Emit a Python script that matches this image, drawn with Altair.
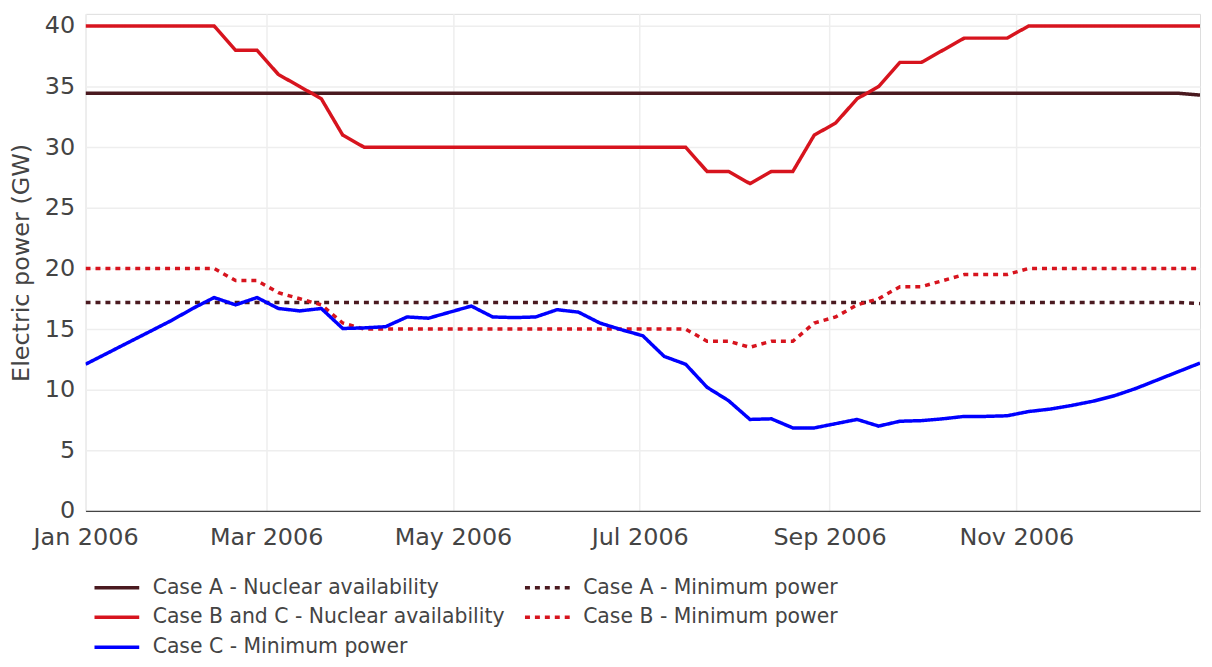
import altair as alt
import pandas as pd

# Weekly dates (start of each week in 2006)
dates = pd.date_range("2006-01-01", periods=53, freq="7D")

case_a_nuclear = [34.45, 34.45, 34.45, 34.45, 34.45, 34.45, 34.45, 34.45, 34.45, 34.45,
                  34.45, 34.45, 34.45, 34.45, 34.45, 34.45, 34.45, 34.45, 34.45, 34.45,
                  34.45, 34.45, 34.45, 34.45, 34.45, 34.45, 34.45, 34.45, 34.45, 34.45,
                  34.45, 34.45, 34.45, 34.45, 34.45, 34.45, 34.45, 34.45, 34.45, 34.45,
                  34.45, 34.45, 34.45, 34.45, 34.45, 34.45, 34.45, 34.45, 34.45, 34.45,
                  34.45, 34.45, 34.3]

case_a_min = [17.2, 17.2, 17.2, 17.2, 17.2, 17.2, 17.2, 17.2, 17.2, 17.2,
              17.2, 17.2, 17.2, 17.2, 17.2, 17.2, 17.2, 17.2, 17.2, 17.2,
              17.2, 17.2, 17.2, 17.2, 17.2, 17.2, 17.2, 17.2, 17.2, 17.2,
              17.2, 17.2, 17.2, 17.2, 17.2, 17.2, 17.2, 17.2, 17.2, 17.2,
              17.2, 17.2, 17.2, 17.2, 17.2, 17.2, 17.2, 17.2, 17.2, 17.2,
              17.2, 17.2, 17.1]

case_bc_nuclear = [40, 40, 40, 40, 40, 40, 40, 38, 38, 36,
                   35, 34, 31, 30, 30, 30, 30, 30, 30, 30,
                   30, 30, 30, 30, 30, 30, 30, 30, 30, 28,
                   28, 27, 28, 28, 31, 32, 34, 35, 37, 37,
                   38, 39, 39, 39, 40, 40, 40, 40, 40, 40,
                   40, 40, 40]

case_b_min = [20, 20, 20, 20, 20, 20, 20, 19, 19, 18,
              17.5, 17, 15.5, 15, 15, 15, 15, 15, 15, 15,
              15, 15, 15, 15, 15, 15, 15, 15, 15, 14,
              14, 13.5, 14, 14, 15.5, 16, 17, 17.5, 18.5, 18.5,
              19, 19.5, 19.5, 19.5, 20, 20, 20, 20, 20, 20,
              20, 20, 20]

case_c_min = [12.1, 13.0, 13.9, 14.8, 15.7, 16.7, 17.6, 17.0, 17.6, 16.7,
              16.5, 16.7, 15.05, 15.1, 15.2, 16.0, 15.9, 16.4, 16.9, 16.0,
              15.95, 16.0, 16.6, 16.4, 15.5, 14.95, 14.45, 12.75, 12.1, 10.2,
              9.1, 7.55, 7.6, 6.85, 6.85, 7.2, 7.55, 7.0, 7.4, 7.45,
              7.6, 7.8, 7.8, 7.85, 8.2, 8.4, 8.7, 9.05, 9.5, 10.1,
              10.8, 11.5, 12.2]

series_names = [
    "Case A - Nuclear availability",
    "Case A - Minimum power",
    "Case B and C - Nuclear availability",
    "Case B - Minimum power",
    "Case C - Minimum power",
]
series_values = [case_a_nuclear, case_a_min, case_bc_nuclear, case_b_min, case_c_min]
series_colors = ["#4a1a20", "#4a1a20", "#d7141e", "#d7141e", "#0000ff"]
series_dashes = [[1, 0], [5, 5], [1, 0], [5, 5], [1, 0]]

x_tick_dates = ["2006-01-01T00:00:00", "2006-03-01T00:00:00", "2006-05-01T00:00:00",
                "2006-07-01T00:00:00", "2006-09-01T00:00:00", "2006-11-01T00:00:00"]
y_ticks = [0, 5, 10, 15, 20, 25, 30, 35, 40]

rows = []
for k, (name, vals) in enumerate(zip(series_names, series_values)):
    for d, v in zip(dates, vals):
        rows.append({"series": name, "order": k, "date": d.strftime("%Y-%m-%dT%H:%M:%S"), "value": v})
df = pd.DataFrame(rows)

FONT = "DejaVu Sans"


def make_legend():
    return alt.Legend(
        title=None,
        orient="none",
        direction="horizontal",
        legendX=18.5,
        legendY=564,
        columns=2,
        symbolType="M-2,0H2",
        symbolSize=506.25,
        symbolStrokeWidth=3.5,
        labelFontSize=20.5,
        labelFont=FONT,
        labelColor="#444",
        labelOffset=23,
        columnPadding=13,
        rowPadding=6,
        padding=0,
        labelLimit=600,
    )


chart = (
    alt.Chart(df)
    .mark_line(strokeWidth=3.5, clip=True)
    .encode(
        x=alt.X(
            "date:T",
            title=None,
            scale=alt.Scale(domain=["2006-01-01T00:00:00", "2006-12-31T00:00:00"], nice=False),
            axis=alt.Axis(
                values=x_tick_dates,
                format="%b %Y",
                labelFontSize=24,
                labelColor="#444",
                labelFont=FONT,
                labelPadding=15,
                ticks=False,
                domainColor="#444",
                domainWidth=1.2,
                gridColor="#eeeeee",
                gridWidth=1.5,
                labelFlush=False,
            ),
        ),
        y=alt.Y(
            "value:Q",
            title="Electric power (GW)",
            scale=alt.Scale(domain=[0, 41], nice=False),
            axis=alt.Axis(
                values=y_ticks,
                labelFontSize=24,
                labelColor="#444",
                labelFont=FONT,
                labelPadding=11,
                ticks=False,
                domain=False,
                gridColor="#eeeeee",
                gridWidth=1.5,
                titleFont=FONT,
                titleFontSize=24,
                titleFontWeight="normal",
                titleColor="#444",
                titlePadding=11,
            ),
        ),
        color=alt.Color(
            "series:N",
            scale=alt.Scale(domain=series_names, range=series_colors),
            legend=make_legend(),
        ),
        strokeDash=alt.StrokeDash(
            "series:N",
            scale=alt.Scale(domain=series_names, range=series_dashes),
            legend=make_legend(),
        ),
        order=alt.Order("order:Q"),
        detail="series:N",
    )
    .properties(
        width=1121,
        height=500,
        autosize=alt.AutoSizeParams(type="none"),
        padding={"left": 78, "top": 4, "right": 4, "bottom": 147},
    )
    .configure_view(stroke=None)
    .configure(font=FONT)
)

chart.save("out.html", embed_options={"renderer": "svg", "actions": False})
